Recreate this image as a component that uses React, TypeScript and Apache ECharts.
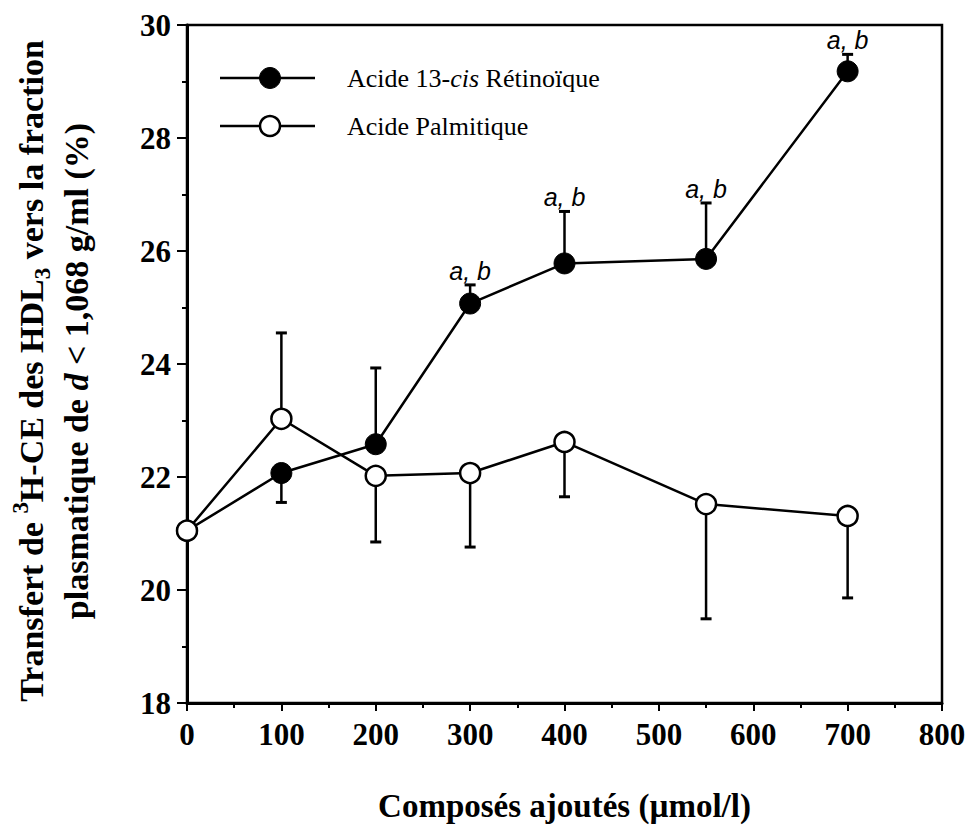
import React, { useEffect, useRef } from "react";
import * as echarts from "echarts";

// ---- data ----
const doses = [0, 100, 200, 300, 400, 550, 700];
const retinoic = [21.05, 22.07, 22.58, 25.07, 25.78, 25.86, 29.18];
const retinoicErrEnd: (number | null)[] = [null, 21.55, 23.93, 25.4, 26.7, 26.85, 29.48];
const palmitic = [21.05, 23.03, 22.02, 22.07, 22.62, 21.52, 21.31];
const palmiticErrEnd: (number | null)[] = [null, 24.55, 20.85, 20.76, 21.65, 19.49, 19.86];
const sigDoses = [300, 400, 550, 700];
const sigLabel = "a, b";
const seriesNames = ["Acide 13-cis Rétinoïque", "Acide Palmitique"];
const xAxisRange = { min: 0, max: 800, interval: 100 };
const yAxisRange = { min: 18, max: 30, interval: 2 };

const SERIF = "'Liberation Serif', 'Times New Roman', serif";
const SANS = "'Liberation Sans', Arial, sans-serif";

function errData(vals: number[], ends: (number | null)[]) {
  const out: number[][] = [];
  doses.forEach((d, i) => {
    const e = ends[i];
    if (e !== null && e !== undefined) out.push([d, vals[i], e]);
  });
  return out;
}

function errRender(params: any, api: any) {
  const x = api.value(0);
  const y = api.value(1);
  const e = api.value(2);
  const p0 = api.coord([x, y]);
  const p1 = api.coord([x, e]);
  return {
    type: "group",
    children: [
      {
        type: "line",
        shape: { x1: p0[0], y1: p0[1], x2: p1[0], y2: p1[1] },
        style: { stroke: "#000", lineWidth: 2.5 },
      },
      {
        type: "line",
        shape: { x1: p1[0] - 5.5, y1: p1[1], x2: p1[0] + 5.5, y2: p1[1] },
        style: { stroke: "#000", lineWidth: 3 },
      },
    ],
  };
}

export default function App() {
  const ref = useRef<HTMLDivElement>(null);
  useEffect(() => {
    if (!ref.current) return;
    const chart = echarts.init(ref.current, null, { renderer: "svg" });
    const sigData = sigDoses.map((d) => {
      const i = doses.indexOf(d);
      return [d, retinoicErrEnd[i] ?? retinoic[i]];
    });
    const option: any = {
      animation: false,
      backgroundColor: "#fff",
      grid: {
        left: 187,
        top: 25,
        right: 29,
        bottom: 124,
        show: true,
        borderColor: "#000",
        borderWidth: 2.5,
        backgroundColor: "transparent",
      },
      xAxis: {
        type: "value",
        min: xAxisRange.min,
        max: xAxisRange.max,
        interval: xAxisRange.interval,
        name: "Composés ajoutés (µmol/l)",
        nameLocation: "middle",
        nameGap: 86,
        nameTextStyle: { fontFamily: SERIF, fontWeight: "bold", fontSize: 33, color: "#000" },
        axisLine: { show: true, onZero: false, lineStyle: { color: "#000", width: 3 } },
        axisTick: { show: true, inside: false, length: 8, lineStyle: { color: "#000", width: 2 } },
        minorTick: { show: true, splitNumber: 2, length: 5, lineStyle: { color: "#000", width: 2 } },
        axisLabel: { fontFamily: SERIF, fontWeight: "bold", fontSize: 31, color: "#000", margin: 16 },
        splitLine: { show: false },
        minorSplitLine: { show: false },
      },
      yAxis: {
        type: "value",
        min: yAxisRange.min,
        max: yAxisRange.max,
        interval: yAxisRange.interval,
        axisLine: { show: true, onZero: false, lineStyle: { color: "#000", width: 3 } },
        axisTick: { show: true, inside: false, length: 10, lineStyle: { color: "#000", width: 2 } },
        minorTick: { show: true, splitNumber: 2, length: 5, lineStyle: { color: "#000", width: 2 } },
        axisLabel: { fontFamily: SERIF, fontWeight: "bold", fontSize: 31, color: "#000", margin: 16 },
        splitLine: { show: false },
        minorSplitLine: { show: false },
      },
      series: [
        {
          type: "custom",
          name: "err-ret",
          silent: true,
          z: 1,
          renderItem: errRender,
          data: errData(retinoic, retinoicErrEnd),
        },
        {
          type: "custom",
          name: "err-pal",
          silent: true,
          z: 1,
          renderItem: errRender,
          data: errData(palmitic, palmiticErrEnd),
        },
        {
          type: "line",
          name: seriesNames[0],
          z: 3,
          data: doses.map((d, i) => [d, retinoic[i]]),
          symbol: "circle",
          symbolSize: 21,
          showAllSymbol: true,
          lineStyle: { color: "#000", width: 2.5 },
          itemStyle: { color: "#000", borderColor: "#000", borderWidth: 1 },
        },
        {
          type: "line",
          name: seriesNames[1],
          z: 4,
          data: doses.map((d, i) => [d, palmitic[i]]),
          symbol: "circle",
          symbolSize: 20,
          showAllSymbol: true,
          lineStyle: { color: "#000", width: 2.5 },
          itemStyle: { color: "#fff", borderColor: "#000", borderWidth: 2.5 },
        },
        {
          type: "scatter",
          name: "sig",
          silent: true,
          z: 5,
          data: sigData,
          symbolSize: 1,
          itemStyle: { color: "transparent" },
          label: {
            show: true,
            position: "top",
            distance: 1,
            formatter: () => sigLabel,
            fontFamily: SANS,
            fontStyle: "italic",
            fontSize: 25,
            color: "#000",
            opacity: 1,
          },
        },
      ],
      graphic: [
        // legend
        { type: "line", shape: { x1: 220, y1: 78, x2: 315, y2: 78 }, style: { stroke: "#000", lineWidth: 2.5 } },
        { type: "circle", shape: { cx: 270, cy: 78, r: 10.5 }, style: { fill: "#000", stroke: "#000", lineWidth: 1 } },
        {
          type: "text",
          x: 347,
          y: 78,
          style: {
            text: "{n|Acide 13-}{i|cis}{n| Rétinoïque}",
            verticalAlign: "middle",
            align: "left",
            rich: {
              n: { fontFamily: SERIF, fontSize: 26, fill: "#000" },
              i: { fontFamily: SERIF, fontSize: 26, fontStyle: "italic", fill: "#000" },
            },
          },
        },
        { type: "line", shape: { x1: 220, y1: 126, x2: 315, y2: 126 }, style: { stroke: "#000", lineWidth: 2.5 } },
        { type: "circle", shape: { cx: 270, cy: 126, r: 10 }, style: { fill: "#fff", stroke: "#000", lineWidth: 2.5 } },
        {
          type: "text",
          x: 347,
          y: 126,
          style: {
            text: seriesNames[1],
            verticalAlign: "middle",
            align: "left",
            font: `26px ${SERIF}`,
            fill: "#000",
          },
        },
        // y-axis title
        {
          type: "text",
          x: 54,
          y: 371,
          rotation: Math.PI / 2,
          style: {
            text:
              "{n|Transfert de }{sup|3}{n|H-CE des HDL}{sub|3}{n| vers la fraction}\n{n|plasmatique de }{it|d}{n| < 1,068 g/ml (%)}",
            align: "center",
            verticalAlign: "middle",
            rich: {
              n: { fontFamily: SERIF, fontWeight: "bold", fontSize: 34, lineHeight: 45, fill: "#000" },
              it: { fontFamily: SERIF, fontWeight: "bold", fontStyle: "italic", fontSize: 34, lineHeight: 45, fill: "#000" },
              sup: { fontFamily: SERIF, fontWeight: "bold", fontSize: 23, lineHeight: 23, verticalAlign: "top", fill: "#000" },
              sub: { fontFamily: SERIF, fontWeight: "bold", fontSize: 23, lineHeight: 23, verticalAlign: "bottom", fill: "#000" },
            },
          },
        },
      ],
    };
    chart.setOption(option);
    return () => chart.dispose();
  }, []);
  return (
    <div
      ref={ref}
      style={{ position: "fixed", left: 0, top: 0, width: 971, height: 827, background: "#fff" }}
    />
  );
}
